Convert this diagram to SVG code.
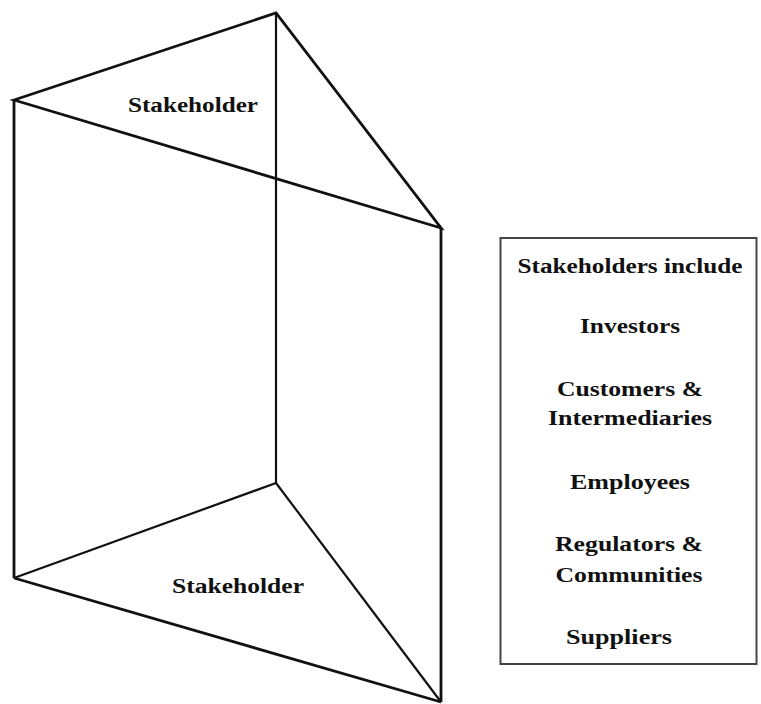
<svg xmlns="http://www.w3.org/2000/svg" width="761" height="704" viewBox="0 0 761 704">
  <style>
    .edge { stroke: #111; stroke-width: 2.8; fill: none; stroke-linejoin: miter; }
    .back { stroke: #111; stroke-width: 2.2; fill: none; }
    .lbl { font-family: "Liberation Serif", "Times New Roman", serif; font-weight: bold; font-size: 20px; fill: #111; text-anchor: middle; }
  </style>
  <rect width="761" height="704" fill="#fff"/>
  <g id="connectors">
    <!-- hidden back edges of the prism -->
    <line class="back" x1="276" y1="13" x2="276" y2="483"/>
    <line class="back" x1="14" y1="578" x2="276" y2="483"/>
    <line class="back" x1="276" y1="483" x2="441" y2="702"/>
    <!-- visible edges -->
    <polygon class="edge" points="14,100 276,13 441,228"/>
    <line class="edge" x1="14" y1="100" x2="14" y2="578"/>
    <line class="edge" x1="441" y1="228" x2="441" y2="702"/>
    <line class="edge" x1="14" y1="578" x2="441" y2="702"/>
  </g>
  <g id="top-face">
    <text class="lbl" x="193" y="112" textLength="130" lengthAdjust="spacingAndGlyphs">Stakeholder</text>
  </g>
  <g id="bottom-face">
    <text class="lbl" x="238" y="593" textLength="132" lengthAdjust="spacingAndGlyphs">Stakeholder</text>
  </g>
  <g id="legend">
    <rect x="500.5" y="238" width="256" height="426" fill="none" stroke="#444" stroke-width="2"/>
    <text class="lbl" x="630" y="273" textLength="225" lengthAdjust="spacingAndGlyphs">Stakeholders include</text>
    <text class="lbl" x="630" y="333" textLength="100" lengthAdjust="spacingAndGlyphs">Investors</text>
    <text class="lbl" x="630" y="396" textLength="146" lengthAdjust="spacingAndGlyphs">Customers &amp;</text>
    <text class="lbl" x="630" y="425" textLength="164" lengthAdjust="spacingAndGlyphs">Intermediaries</text>
    <text class="lbl" x="630" y="489" textLength="120" lengthAdjust="spacingAndGlyphs">Employees</text>
    <text class="lbl" x="629" y="551" textLength="148" lengthAdjust="spacingAndGlyphs">Regulators &amp;</text>
    <text class="lbl" x="629" y="582" textLength="147" lengthAdjust="spacingAndGlyphs">Communities</text>
    <text class="lbl" x="619" y="644" textLength="106" lengthAdjust="spacingAndGlyphs">Suppliers</text>
  </g>
</svg>
